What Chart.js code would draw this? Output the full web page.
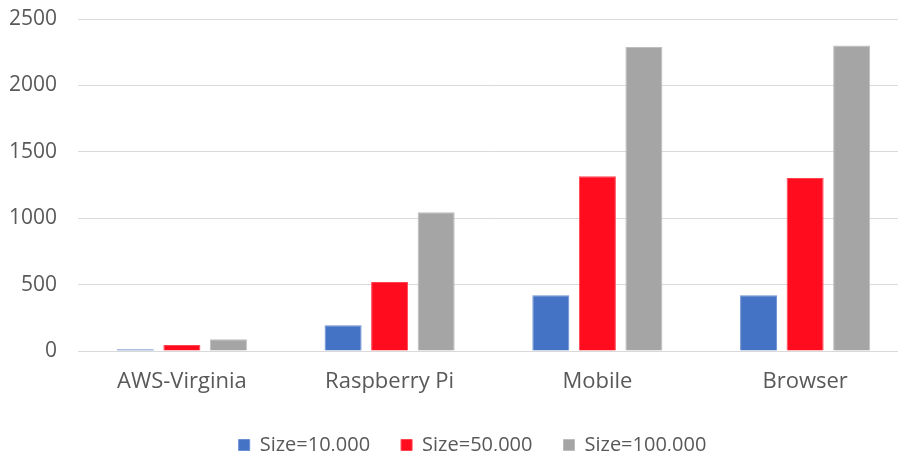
<!DOCTYPE html>
<html>
<head>
<meta charset="utf-8">
<script src="https://cdn.jsdelivr.net/npm/chart.js@4"></script>
<style>
    html, body { margin: 0; padding: 0; background: #fff; overflow: hidden; }
    #wrap { width: 909px; height: 451px; }
</style>
</head>
<body>
<div id="wrap"><canvas id="chart" width="909" height="451"></canvas></div>
<script>
// values
const categories = ['AWS-Virginia', 'Raspberry Pi', 'Mobile', 'Browser'];
const size10k = [13, 194, 419, 419];
const size50k = [45, 520, 1316, 1302];
const size100k = [88, 1045, 2290, 2300];
const seriesNames = ['Size=10,000', 'Size=50,000', 'Size=100,000'];
const yTicks = [0, 500, 1000, 1500, 2000, 2500];

const textColor = '#595959';
const fontFamily = '"Open Sans", sans-serif';

function bars(label, data, fill, border) {
    return {
        label: label,
        data: data,
        backgroundColor: fill,
        borderColor: border,
        borderWidth: 1,
        categoryPercentage: 0.672,
        barPercentage: 0.796
    };
}

// keep the legend box short and put it a bit right of centre, like the reference
const legendNudge = {
    id: 'legendNudge',
    beforeLayout: function (chart) {
        const lg = chart.legend;
        if (lg && !lg._fitWrapped) {
            const fit = lg.fit.bind(lg);
            lg.fit = function () { fit(); lg.height = 40; };
            lg._fitWrapped = true;
        }
    },
    afterLayout: function (chart) {
        const lg = chart.legend;
        lg.left += 18;
        lg.right += 18;
        lg.top = 404;
        lg.bottom = chart.height;
        lg.height = lg.bottom - lg.top;
    }
};

new Chart(document.getElementById('chart'), {
    type: 'bar',
    data: {
        labels: categories,
        datasets: [
            bars(seriesNames[0], size10k, '#4472C4', '#6a8fd2'),
            bars(seriesNames[1], size50k, '#FF0D1F', '#ff4450'),
            bars(seriesNames[2], size100k, '#A5A5A5', '#bdbdbd')
        ]
    },
    plugins: [legendNudge],
    options: {
        responsive: false,
        animation: false,
        layout: { padding: { left: 0, right: 0, top: 19, bottom: 0 } },
        plugins: {
            tooltip: { enabled: false },
            legend: {
                position: 'bottom',
                labels: {
                    boxWidth: 11,
                    boxHeight: 11,
                    padding: 31,
                    color: textColor,
                    font: { family: fontFamily, size: 20 }
                }
            }
        },
        scales: {
            x: {
                grid: { display: false, drawTicks: false },
                border: { color: '#d9d9d9', width: 1 },
                afterFit: function (scale) { scale.height = 60; },
                ticks: {
                    color: textColor,
                    padding: 18,
                    font: { family: fontFamily, size: 22 }
                }
            },
            y: {
                min: 0,
                max: 2500,
                afterBuildTicks: function (scale) {
                    scale.ticks = yTicks.map(v => ({ value: v }));
                },
                afterFit: function (scale) {
                    scale.width = 78;
                    scale.paddingTop = 0;
                    scale.paddingBottom = 0;
                },
                grid: { color: '#d9d9d9', lineWidth: 1, drawTicks: false },
                border: { display: false },
                ticks: {
                    color: textColor,
                    padding: 21,
                    font: { family: fontFamily, size: 21 },
                    callback: function (value) { return String(value); }
                }
            }
        }
    }
});
</script>
</body>
</html>
